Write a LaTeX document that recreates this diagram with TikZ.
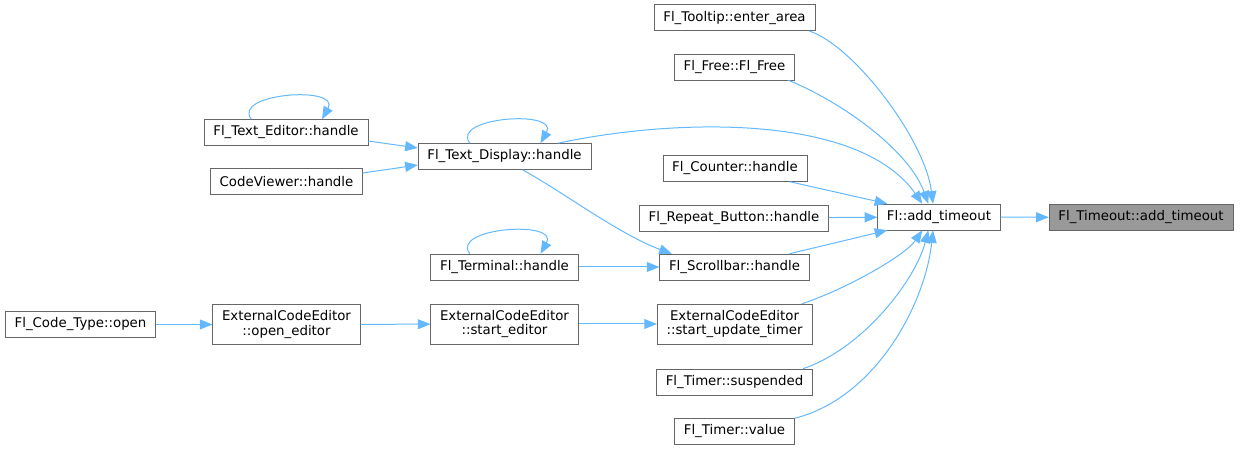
\documentclass[tikz,border=0pt]{standalone}
\usepackage{fontspec}
\setmainfont{DejaVu Sans}
\usepackage{tikz}
\usepackage{xcolor}
\usetikzlibrary{arrows.meta, positioning, calc}

\definecolor{edgeblue}{HTML}{63B8FF}
\definecolor{boxgray}{HTML}{666666}
\definecolor{hilite}{HTML}{999999}

\begin{document}
\begin{tikzpicture}[x=0.75pt, y=-0.75pt,
    fn/.style={draw=boxgray, fill=white, rectangle, inner xsep=7pt, inner ysep=0pt,
        minimum height=19.5pt, font=\fontsize{10}{11}\selectfont, align=center},
    fntwo/.style={fn, minimum height=30pt},
    callee/.style={fn, fill=hilite},
    edge/.style={draw=edgeblue, line width=0.75pt, -{Triangle[length=9.5pt, width=7.5pt]}}]
    \useasboundingbox (0,0) rectangle (1240,449);

    % =========================================================
    % CALLEE AND DIRECT CALLERS
    % =========================================================
    \node[callee] (tmadd) at (1141,217.5) {Fl\_Timeout::add\_timeout};
    \node[fn] (fladd) at (939,217) {Fl::add\_timeout};

    \node[fn] (tooltip) at (734.5,17.7) {Fl\_Tooltip::enter\_area};
    \node[fn] (flfree) at (734.5,67) {Fl\_Free::Fl\_Free};
    \node[fn] (tdisp) at (504.5,156.5) {Fl\_Text\_Display::handle};
    \node[fn] (counter) at (735,168.5) {Fl\_Counter::handle};
    \node[fn] (repeat) at (734,218) {Fl\_Repeat\_Button::handle};
    \node[fn] (scroll) at (734.5,267) {Fl\_Scrollbar::handle};
    \node[fntwo] (updtimer) at (734.5,324) {ExternalCodeEditor\\::start\_update\_timer};
    \node[fn] (suspended) at (734.5,382) {Fl\_Timer::suspended};
    \node[fn] (tvalue) at (734.5,431.5) {Fl\_Timer::value};

    % =========================================================
    % INDIRECT CALLERS
    % =========================================================
    \node[fn] (teditor) at (286,132.5) {Fl\_Text\_Editor::handle};
    \node[fn] (codeview) at (286.5,181.5) {CodeViewer::handle};
    \node[fn] (terminal) at (504.5,267) {Fl\_Terminal::handle};
    \node[fntwo] (started) at (504.5,324) {ExternalCodeEditor\\::start\_editor};
    \node[fntwo] (opened) at (286.5,324.5) {ExternalCodeEditor\\::open\_editor};
    \node[fn] (codeopen) at (80.5,324.5) {Fl\_Code\_Type::open};

    % =========================================================
    % EDGES INTO Fl::add_timeout
    % =========================================================
    \draw[edge] (fladd) -- (tmadd);
    \draw[edge] ([xshift=-4.5pt]tooltip.south east) .. controls +(45,15) and +(-8,-64) .. ([xshift=-4.5pt]fladd.north);
    \draw[edge] ([xshift=-5pt]flfree.south east) .. controls +(50,20) and +(-20,-55) .. ([xshift=-8pt]fladd.north);
    \draw[edge] ([xshift=40pt]tdisp.north) .. controls +(122,-26) and +(-62,-89) .. ([xshift=-12.5pt]fladd.north);
    \draw[edge] ([xshift=-13pt]counter.south east) -- ([xshift=7.5pt]fladd.north west);
    \draw[edge] (repeat) -- (fladd);
    \draw[edge] ([xshift=-15pt]scroll.north east) -- ([xshift=7.5pt]fladd.south west);
    \draw[edge] ([xshift=-7.5pt]updtimer.north east) .. controls +(45,-15) and +(-17,25) .. ([xshift=-12.5pt]fladd.south);
    \draw[edge] ([xshift=-7.5pt]suspended.north east) .. controls +(60,-20) and +(-13,50) .. ([xshift=-8pt]fladd.south);
    \draw[edge] (tvalue.north east) .. controls +(80,-20) and +(-8,75) .. ([xshift=-4.5pt]fladd.south);

    % =========================================================
    % OTHER CALL EDGES AND RECURSION LOOPS
    % =========================================================
    \draw[edge] ([yshift=-6.4pt]teditor.east) -- ([yshift=6.4pt]tdisp.west);
    \draw[edge] ([yshift=6.4pt]codeview.east) -- ([yshift=-6.4pt]tdisp.west);
    \draw[edge] ([xshift=13.5pt]tdisp.south) .. controls +(40,22) and +(-52,-19) .. ([xshift=-47pt]scroll.north);
    \draw[edge] (terminal) -- (scroll);
    \draw[edge] (started) -- (updtimer);
    \draw[edge] (opened) -- (started);
    \draw[edge] (codeopen) -- (opened);

    \draw[edge] ([xshift=-26pt]tdisp.north) .. controls +(-20,-26) and +(19,-34) .. ([xshift=27pt]tdisp.north);
    \draw[edge] ([xshift=-26pt]teditor.north) .. controls +(-20,-26) and +(19,-34) .. ([xshift=27pt]teditor.north);
    \draw[edge] ([xshift=-26pt]terminal.north) .. controls +(-20,-26) and +(19,-34) .. ([xshift=27pt]terminal.north);
\end{tikzpicture}
\end{document}
